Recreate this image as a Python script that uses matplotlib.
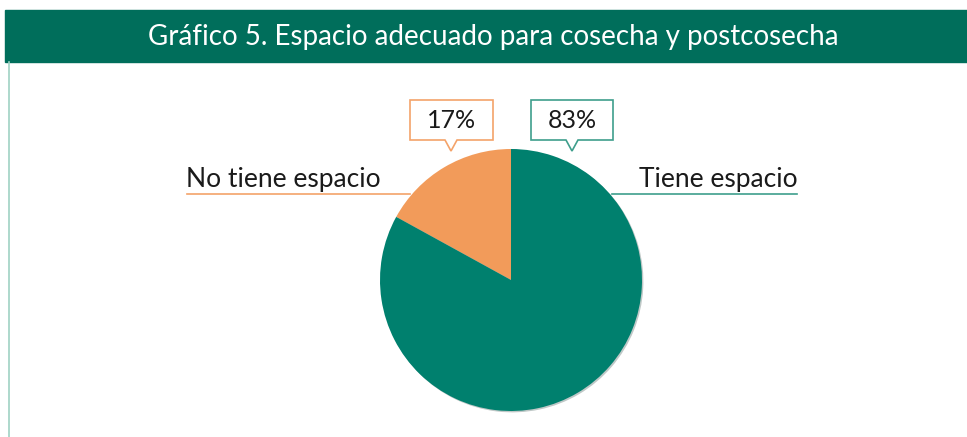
import matplotlib.pyplot as plt
from matplotlib.patches import Rectangle, Polygon
import matplotlib.patheffects as pe

# Data
labels = ["No tiene espacio", "Tiene espacio"]
values = [17, 83]
colors = ["#f29b5a", "#00806e"]
edge_colors = ["#f4a36a", "#3e9e8c"]

title = "Gráfico 5. Espacio adecuado para cosecha y postcosecha"

plt.rcParams['font.family'] = ['Lato', 'DejaVu Sans']

W, H = 967, 437
fig = plt.figure(figsize=(W / 100, H / 100), dpi=100)
ax = fig.add_axes([0, 0, 1, 1])


def Y(y):
    # pixel row (from top) -> data y
    return H - y


# header band
ax.add_patch(Rectangle((5, Y(62)), W - 5, 52, color="#006e5b", zorder=1))
ax.text(493, Y(37), title, color="white", fontsize=20, ha="center", va="center", zorder=2)
# left frame line
ax.plot([8.5, 8.5], [Y(62), Y(437)], color="#a0d2c4", lw=1.2, zorder=1)

# pie
cx, cy, r = 511, Y(280), 131
wedges, _ = ax.pie(values, colors=colors, startangle=90, counterclock=True,
                   center=(cx, cy), radius=r, frame=True,
                   wedgeprops=dict(linewidth=0))
for w in wedges:
    w.set_path_effects([pe.SimplePatchShadow(offset=(1, -1), alpha=0.25), pe.Normal()])
ax.set_xlim(0, W)
ax.set_ylim(0, H)
ax.set_aspect('equal')
ax.axis('off')

# category labels with underline leaders
ax.text(186, Y(179), labels[0], fontsize=19, color="#1a1a1a", ha="left", va="center")
ax.plot([187, 410], [Y(194), Y(194)], color=edge_colors[0], lw=1.2)
ax.text(798, Y(179), labels[1], fontsize=19, color="#1a1a1a", ha="right", va="center")
ax.plot([612, 797], [Y(194), Y(194)], color=edge_colors[1], lw=1.2)


# value callouts
def callout(x0, x1, y0, y1, px, text, ec):
    pts = [(x0, Y(y0)), (x1, Y(y0)), (x1, Y(y1)), (px + 6, Y(y1)), (px, Y(y1 + 11)),
           (px - 6, Y(y1)), (x0, Y(y1))]
    ax.add_patch(Polygon(pts, closed=True, facecolor="white", edgecolor=ec, lw=1.2, zorder=3))
    ax.text((x0 + x1) / 2, Y((y0 + y1) / 2), text, fontsize=18, color="#1a1a1a",
            ha="center", va="center", zorder=4)


callout(410, 493, 100, 140, 451, f"{values[0]}%", edge_colors[0])
callout(531, 613, 100, 140, 572, f"{values[1]}%", edge_colors[1])

fig.savefig("out.png", dpi=100)
